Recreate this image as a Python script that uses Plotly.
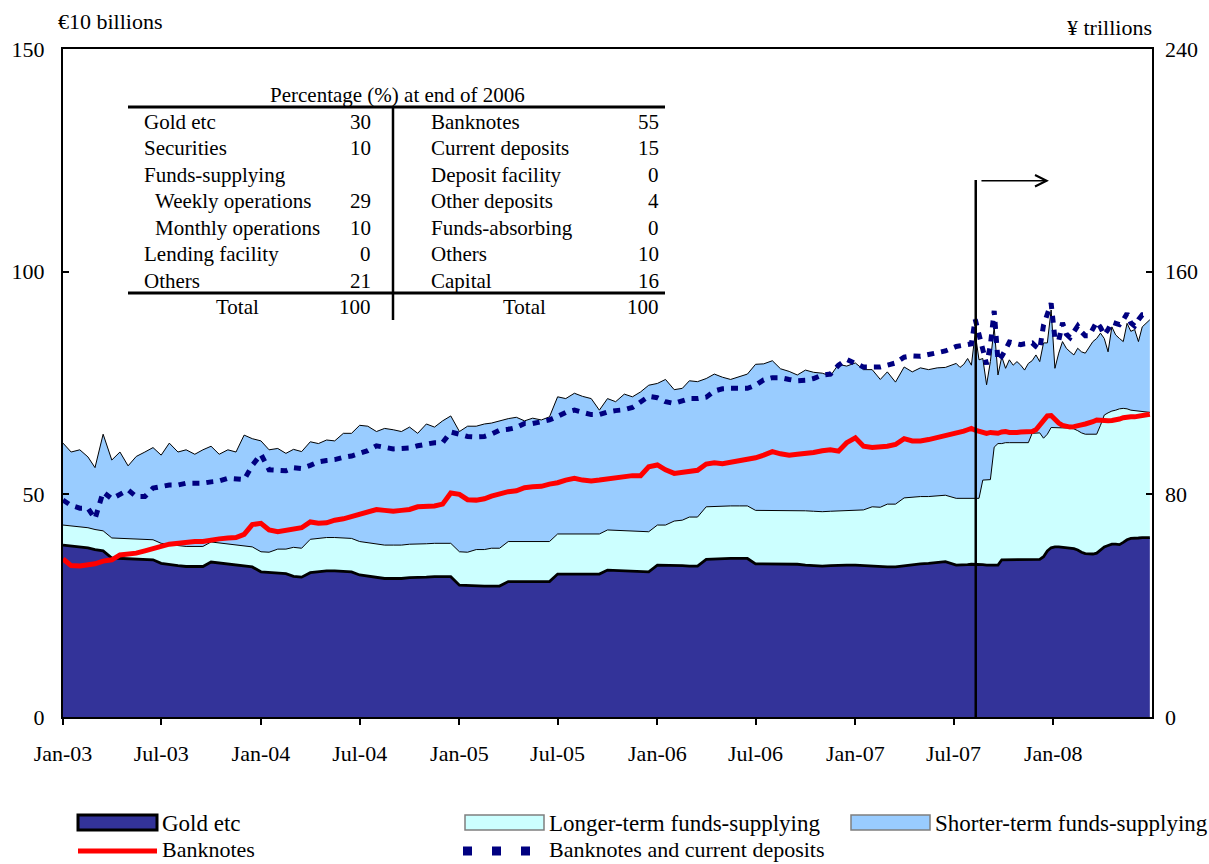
import pandas as pd
import plotly.graph_objects as go

# ---------------------------------------------------------------------------
# Observation dates: semi-monthly up to mid-2007, weekly from July 2007 on
# ---------------------------------------------------------------------------
semi_monthly = [f"{y}-{m:02d}-{d:02d}"
                for y in range(2003, 2008)
                for m in range(1, 13)
                for d in (1, 16)
                if not (y == 2007 and m > 6)]
weekly = [d.strftime("%Y-%m-%d") for d in pd.date_range("2007-07-06", periods=52, freq="7D")]
dates = semi_monthly + weekly

# ---------------------------------------------------------------------------
# Asset side (EUR 10 billions)
# ---------------------------------------------------------------------------
gold_etc = (
    # 2003
    [38.6, 38.4, 38.2, 38.0, 37.6, 37.3, 35.7, 35.6, 35.5, 35.4, 35.3, 35.3,
     34.5, 34.2, 34.0, 33.8, 33.8, 33.8, 34.8, 34.6, 34.4, 34.2, 33.9, 33.7]
    # 2004
    + [32.6, 32.5, 32.4, 32.2, 31.6, 31.4, 32.4, 32.6, 32.8, 32.8, 32.7, 32.6,
       31.9, 31.6, 31.3, 31.1, 31.1, 31.1, 31.3, 31.3, 31.4, 31.5, 31.5, 31.5]
    # 2005
    + [29.6, 29.5, 29.4, 29.4, 29.4, 29.4, 30.4, 30.4, 30.4, 30.4, 30.4, 30.4,
       32.1, 32.1, 32.1, 32.1, 32.1, 32.1, 33.0, 32.9, 32.8, 32.7, 32.6, 32.6]
    # 2006
    + [34.1, 34.1, 34.0, 34.0, 33.9, 33.9, 35.4, 35.5, 35.5, 35.6, 35.6, 35.6,
       34.4, 34.4, 34.4, 34.4, 34.4, 34.3, 34.1, 34.0, 33.9, 34.0, 34.1, 34.1]
    # 2007 H1
    + [34.1, 34.0, 33.8, 33.7, 33.7, 33.7, 34.0, 34.2, 34.4, 34.5, 34.7, 34.9]
    # weekly, Jul 2007 - Jun 2008
    + [34.1, 34.1, 34.2, 34.2, 34.3, 34.3, 34.3, 34.2, 34.1, 34.1,
       34.1, 34.1, 35.3, 35.3, 35.3, 35.3, 35.3, 35.3, 35.4, 35.4,
       35.4, 35.4, 35.4, 36.0, 37.3, 38.0, 38.2, 38.2, 38.1, 37.9,
       37.9, 37.8, 37.5, 37.0, 36.7, 36.6, 36.6, 36.8, 37.6, 38.2,
       38.5, 38.8, 38.8, 38.7, 39.2, 39.8, 40.1, 40.1, 40.2, 40.3,
       40.3, 40.3]
)

longer_term = (
    [4.5] * 24
    + [4.5, 4.5, 5.3, 5.5, 6.5, 6.5] + [7.5] * 18
    + [7.5, 7.5, 8.2, 8.2, 8.5, 8.5] + [9.0] * 18
    + [9.0, 9.0, 10.0, 10.2, 11.0, 11.0] + [11.8] * 6 + [12.0] * 6 + [12.2] * 6
    + [12.4, 12.5, 13.4, 13.4, 14.1, 14.1, 15.2, 15.2, 15.1, 15.0, 15.0, 14.9]
    + [15.0, 15.0, 14.9, 14.9, 14.8, 14.8, 14.8, 19.0, 19.2, 19.2,
       26.5, 27.3, 26.1, 26.3, 26.3, 26.3, 26.3, 26.3, 26.2, 26.2,
       28.3, 28.4, 28.4, 26.6, 26.2, 27.0, 26.8, 26.8, 26.9, 27.0,
       26.9, 26.9, 26.8, 26.8, 26.8, 26.9, 26.9, 26.7, 27.9, 29.6,
       29.8, 29.9, 30.1, 30.5, 30.1, 29.4, 28.8, 28.7, 28.4, 28.2,
       28.1, 28.1]
)

shorter_term = (
    [18.4, 16.6, 17.3, 15.9, 13.9, 21.7, 17.5, 19.4, 16.4, 18.6, 19.7, 20.7,
     19.8, 22.8, 21.0, 21.7, 20.7, 21.7, 21.5, 19.9, 21.1, 20.8, 24.9, 24.3]
    + [24.9, 23.0, 22.6, 21.5, 22.0, 21.7, 21.9, 21.3, 21.9, 21.7, 23.5, 23.6,
       26.1, 26.2, 25.3, 26.2, 25.9, 25.5, 26.3, 24.9, 26.9, 26.1, 27.5, 28.6]
    + [27.0, 28.3, 27.7, 28.2, 28.1, 28.6, 27.6, 27.9, 27.1, 27.7, 27.3, 28.0,
       30.8, 30.4, 31.6, 30.9, 30.4, 27.8, 29.5, 28.9, 30.7, 30.2, 31.4, 32.9]
    + [31.8, 32.7, 29.5, 29.6, 30.6, 30.4, 28.8, 29.7, 29.0, 28.4, 29.1, 29.6,
       32.8, 32.9, 33.6, 31.8, 31.2, 30.5, 31.6, 31.2, 31.1, 30.4, 32.9, 32.5]
    + [33.0, 31.5, 30.8, 28.7, 29.7, 27.4, 29.4, 28.1, 28.9, 28.5, 28.7, 28.7]
    + [30.3, 29.4, 30.1, 31.4, 29.9, 37.1, 31.1, 27.3, 21.3, 26.5,
       27.0, 15.4, 19.5, 16.7, 18.6, 17.4, 18.2, 17.4, 16.3, 17.8,
       16.3, 17.5, 16.0, 21.4, 20.5, 26.4, 13.3, 16.7, 19.3, 17.9,
       17.2, 16.6, 18.5, 18.2, 18.2, 19.5, 20.8, 21.5, 20.7, 17.2,
       13.7, 18.9, 16.9, 15.8, 15.0, 19.2, 17.7, 18.2, 15.7, 19.1,
       20.0, 20.8]
)

# ---------------------------------------------------------------------------
# Liability side (EUR 10 billions)
# ---------------------------------------------------------------------------
banknotes = (
    [35.5, 34.0, 33.9, 34.2, 34.4, 35.0, 35.3, 36.4, 36.6, 36.8, 37.3, 37.9,
     38.3, 38.8, 39.0, 39.4, 39.4, 39.4, 39.8, 40.0, 40.2, 40.3, 41.0, 43.2]
    + [43.5, 42.0, 41.6, 41.9, 42.2, 42.5, 43.8, 43.5, 43.6, 44.2, 44.5, 45.0,
       45.4, 46.1, 46.6, 46.4, 46.2, 46.4, 46.6, 47.2, 47.3, 47.4, 47.8, 50.3]
    + [50.0, 48.8, 48.7, 49.0, 49.6, 50.2, 50.6, 50.8, 51.5, 51.7, 51.8, 52.3,
       52.6, 53.2, 53.6, 53.2, 53.0, 53.2, 53.5, 53.8, 54.1, 54.2, 54.2, 56.2]
    + [56.6, 55.5, 54.7, 55.0, 55.2, 55.4, 56.8, 57.1, 56.9, 57.2, 57.6, 57.8,
       58.2, 58.8, 59.6, 59.1, 58.8, 59.0, 59.1, 59.4, 59.8, 60.0, 59.7, 61.6]
    + [62.7, 60.8, 60.5, 60.6, 60.8, 61.2, 62.5, 62.0, 62.0, 62.3, 62.7, 63.2]
    + [63.6, 63.8, 64.2, 64.5, 64.8, 64.4, 64.1, 64.0, 63.7, 63.9,
       63.7, 63.7, 64.0, 64.1, 63.9, 63.8, 63.9, 64.0, 64.1, 64.0,
       64.1, 64.5, 65.5, 66.5, 67.6, 67.7, 66.8, 66.0, 65.5, 65.2,
       65.1, 65.2, 65.3, 65.6, 65.8, 66.0, 66.3, 66.7, 66.6, 66.5,
       66.5, 66.6, 66.7, 66.9, 67.2, 67.4, 67.4, 67.4, 67.6, 67.8,
       67.9, 68.0]
)

banknotes_and_current = (
    [48.7, 47.5, 46.9, 46.9, 44.5, 50.5, 49.0, 50.0, 51.0, 49.5, 49.5, 51.4,
     51.8, 52.1, 52.1, 52.5, 52.5, 52.5, 52.8, 53.0, 53.6, 53.5, 53.3, 56.5]
    + [59.0, 55.5, 55.3, 55.3, 56.0, 55.8, 56.5, 57.3, 57.6, 57.8, 58.3, 58.6,
       59.2, 59.8, 60.9, 60.5, 60.2, 60.3, 60.4, 60.9, 61.3, 61.6, 61.6, 64.0]
    + [63.5, 63.0, 62.9, 63.0, 63.5, 64.4, 64.6, 65.0, 65.9, 65.9, 66.3, 66.7,
       67.5, 68.4, 68.9, 68.3, 67.9, 67.9, 68.5, 68.8, 69.0, 69.5, 70.6, 72.0]
    + [71.7, 70.8, 70.4, 71.0, 71.5, 71.5, 71.8, 73.2, 73.7, 73.8, 73.8, 73.8,
       74.5, 75.7, 76.2, 76.2, 75.8, 75.5, 75.6, 76.0, 76.8, 77.0, 79.0, 80.3]
    + [79.4, 78.6, 78.6, 78.6, 79.0, 79.5, 80.8, 81.1, 81.0, 81.4, 81.8, 82.2]
    + [83.2, 83.4, 83.6, 83.8, 83.8, 89.3, 85.8, 82.5, 79.2, 83.5,
       91.2, 80.0, 81.0, 82.5, 84.2, 84.0, 83.8, 83.6, 83.8, 84.0,
       84.0, 83.2, 82.6, 88.0, 90.5, 92.9, 85.0, 84.5, 88.5, 86.0,
       85.2, 86.5, 87.8, 86.5, 85.6, 85.6, 87.0, 88.7, 87.5, 85.8,
       87.0, 88.7, 88.4, 88.1, 89.2, 90.6, 88.5, 87.8, 89.2, 90.3,
       90.3, 90.5]
)

# Axis ticks
x_tick_dates = [f"{y}-{m:02d}-01" for y in range(2003, 2009) for m in (1, 7)][:-1]
x_tick_text = [f"{'Jan' if m == 1 else 'Jul'}-{str(y)[2:]}"
               for y in range(2003, 2009) for m in (1, 7)][:-1]
left_ticks = [0, 50, 100, 150]
right_ticks = [0, 80, 160, 240]

# Balance-sheet composition table (percent, end of 2006)
assets_rows = [("Gold etc", "30", 0), ("Securities", "10", 0), ("Funds-supplying", "", 0),
               ("Weekly operations", "29", 1), ("Monthly operations", "10", 1),
               ("Lending facility", "0", 0), ("Others", "21", 0)]
liabilities_rows = [("Banknotes", "55"), ("Current deposits", "15"), ("Deposit facility", "0"),
                    ("Other deposits", "4"), ("Funds-absorbing", "0"), ("Others", "10"),
                    ("Capital", "16")]
assets_total = "100"
liabilities_total = "100"

turmoil_date = "2007-08-11"

# ---------------------------------------------------------------------------
FONT = "Liberation Serif"
GOLD_C = "#333399"
LONG_C = "#CCFFFF"
SHORT_C = "#99CCFF"
RED_C = "#FF0000"
NAVY_C = "#000080"

W, H = 1209, 864
L_M, R_M, T_M, B_M = 63, 57, 49, 147
PW, PH = W - L_M - R_M, H - T_M - B_M


def px_x(p):
    return (p - L_M) / PW


def px_y(p):
    return (H - B_M - p) / PH


fig = go.Figure()

fig.add_trace(go.Scatter(x=dates, y=gold_etc, name="Gold etc", stackgroup="assets",
                         mode="lines", fillcolor=GOLD_C,
                         line=dict(color="black", width=2.8), showlegend=False))
fig.add_trace(go.Scatter(x=dates, y=longer_term, name="Longer-term funds-supplying",
                         stackgroup="assets", mode="lines", fillcolor=LONG_C,
                         line=dict(color="black", width=1), showlegend=False))
fig.add_trace(go.Scatter(x=dates, y=shorter_term, name="Shorter-term funds-supplying",
                         stackgroup="assets", mode="lines", fillcolor=SHORT_C,
                         line=dict(color="black", width=1), showlegend=False))
fig.add_trace(go.Scatter(x=dates, y=banknotes, name="Banknotes", mode="lines",
                         line=dict(color=RED_C, width=5), showlegend=False))
fig.add_trace(go.Scatter(x=dates, y=banknotes_and_current, name="Banknotes and current deposits",
                         mode="lines", line=dict(color=NAVY_C, width=5, dash="7px,7px"),
                         showlegend=False))
# anchor for the right-hand (yen) axis
fig.add_trace(go.Scatter(x=[dates[0]], y=[0], yaxis="y2", mode="markers",
                         marker=dict(opacity=0), showlegend=False, hoverinfo="skip"))

tick_font = dict(family=FONT, size=22, color="black")

fig.update_layout(
    width=W, height=H,
    margin=dict(l=L_M, r=R_M, t=T_M, b=B_M),
    paper_bgcolor="white", plot_bgcolor="white",
    font=dict(family=FONT, color="black"),
    xaxis=dict(type="date", range=["2003-01-01", "2008-07-01"],
               tickmode="array", tickvals=x_tick_dates, ticktext=x_tick_text,
               ticks="outside", ticklen=6, tickwidth=1.5, tickcolor="black",
               showline=True, linewidth=2, linecolor="black", mirror=True,
               showgrid=False, zeroline=False, tickfont=tick_font,
               ticklabelstandoff=10),
    yaxis=dict(range=[0, 150], tickmode="array", tickvals=left_ticks,
               ticks="inside", ticklen=6, tickwidth=1.5, tickcolor="black",
               showline=True, linewidth=2, linecolor="black", mirror=True,
               showgrid=False, zeroline=False, tickfont=tick_font,
               ticklabelstandoff=12),
    yaxis2=dict(range=[0, 240], tickmode="array", tickvals=right_ticks,
                overlaying="y", side="right", anchor="x",
                ticks="inside", ticklen=6, tickwidth=1.5, tickcolor="black",
                showline=False, showgrid=False, zeroline=False, tickfont=tick_font,
                ticklabelstandoff=12),
)

shapes = []
annotations = []

# August 2007 marker with arrow
shapes.append(dict(type="line", xref="x", yref="y", x0=turmoil_date, x1=turmoil_date,
                   y0=0, y1=120.6, line=dict(color="black", width=2.5)))
annotations.append(dict(xref="x", yref="y", x="2007-12-24", y=120.4, text="",
                        showarrow=True, ax=-69, ay=0, arrowhead=5, arrowsize=1.5,
                        arrowwidth=1.5, arrowcolor="black"))

# Axis unit labels
annotations.append(dict(xref="paper", yref="paper", x=px_x(56), y=px_y(22),
                        xanchor="left", yanchor="middle", showarrow=False,
                        text="€10 billions", font=dict(family=FONT, size=22)))
annotations.append(dict(xref="paper", yref="paper", x=px_x(1154), y=px_y(28),
                        xanchor="right", yanchor="middle", showarrow=False,
                        text="¥ trillions", font=dict(family=FONT, size=22)))

# Composition table
tfont = dict(family=FONT, size=21, color="black")
annotations.append(dict(xref="paper", yref="paper", x=px_x(397), y=px_y(95),
                        xanchor="center", yanchor="middle", showarrow=False,
                        text="Percentage (%) at end of 2006", font=tfont))
for y_px in (107, 293):
    shapes.append(dict(type="line", xref="paper", yref="paper",
                       x0=px_x(128), x1=px_x(665), y0=px_y(y_px), y1=px_y(y_px),
                       line=dict(color="black", width=3)))
shapes.append(dict(type="line", xref="paper", yref="paper",
                   x0=px_x(393), x1=px_x(393), y0=px_y(107), y1=px_y(320),
                   line=dict(color="black", width=2.5)))
row_y = [122, 148, 175, 201, 228, 254, 281]
for ry, (lab, val, indent), (rlab, rval) in zip(row_y, assets_rows, liabilities_rows):
    annotations.append(dict(xref="paper", yref="paper", x=px_x(142 + 11 * indent), y=px_y(ry),
                            xanchor="left", yanchor="middle", showarrow=False,
                            text=lab, font=tfont))
    if val:
        annotations.append(dict(xref="paper", yref="paper", x=px_x(373), y=px_y(ry),
                                xanchor="right", yanchor="middle", showarrow=False,
                                text=val, font=tfont))
    annotations.append(dict(xref="paper", yref="paper", x=px_x(429), y=px_y(ry),
                            xanchor="left", yanchor="middle", showarrow=False,
                            text=rlab, font=tfont))
    annotations.append(dict(xref="paper", yref="paper", x=px_x(661), y=px_y(ry),
                            xanchor="right", yanchor="middle", showarrow=False,
                            text=rval, font=tfont))
for cx, vx, tot in ((237, 373, assets_total), (524, 661, liabilities_total)):
    annotations.append(dict(xref="paper", yref="paper", x=px_x(cx), y=px_y(307),
                            xanchor="center", yanchor="middle", showarrow=False,
                            text="Total", font=tfont))
    annotations.append(dict(xref="paper", yref="paper", x=px_x(vx), y=px_y(307),
                            xanchor="right", yanchor="middle", showarrow=False,
                            text=tot, font=tfont))

# Legend
lfont = dict(family=FONT, size=23, color="black")
legend_boxes = [(78, "Gold etc", GOLD_C, "black", 3),
                (465, "Longer-term funds-supplying", LONG_C, "#7f7f7f", 1.5),
                (851, "Shorter-term funds-supplying", SHORT_C, "#7f7f7f", 1.5)]
for x0, label, fillc, edge, ew in legend_boxes:
    shapes.append(dict(type="rect", xref="paper", yref="paper",
                       x0=px_x(x0), x1=px_x(x0 + 79), y0=px_y(815), y1=px_y(830),
                       fillcolor=fillc, line=dict(color=edge, width=ew)))
    annotations.append(dict(xref="paper", yref="paper", x=px_x(x0 + 82), y=px_y(823),
                            xanchor="left", yanchor="middle", showarrow=False,
                            text=label, font=lfont))
shapes.append(dict(type="line", xref="paper", yref="paper",
                   x0=px_x(78), x1=px_x(157), y0=px_y(851), y1=px_y(851),
                   line=dict(color=RED_C, width=5)))
annotations.append(dict(xref="paper", yref="paper", x=px_x(160), y=px_y(849),
                        xanchor="left", yanchor="middle", showarrow=False,
                        text="Banknotes", font=dict(family=FONT, size=22, color="black")))
shapes.append(dict(type="line", xref="paper", yref="paper",
                   x0=px_x(463), x1=px_x(540), y0=px_y(851), y1=px_y(851),
                   line=dict(color=NAVY_C, width=9, dash="9px,20px")))
annotations.append(dict(xref="paper", yref="paper", x=px_x(547), y=px_y(849),
                        xanchor="left", yanchor="middle", showarrow=False,
                        text="Banknotes and current deposits",
                        font=dict(family=FONT, size=22, color="black")))

fig.update_layout(shapes=shapes, annotations=annotations)

fig.write_html("out.html")
